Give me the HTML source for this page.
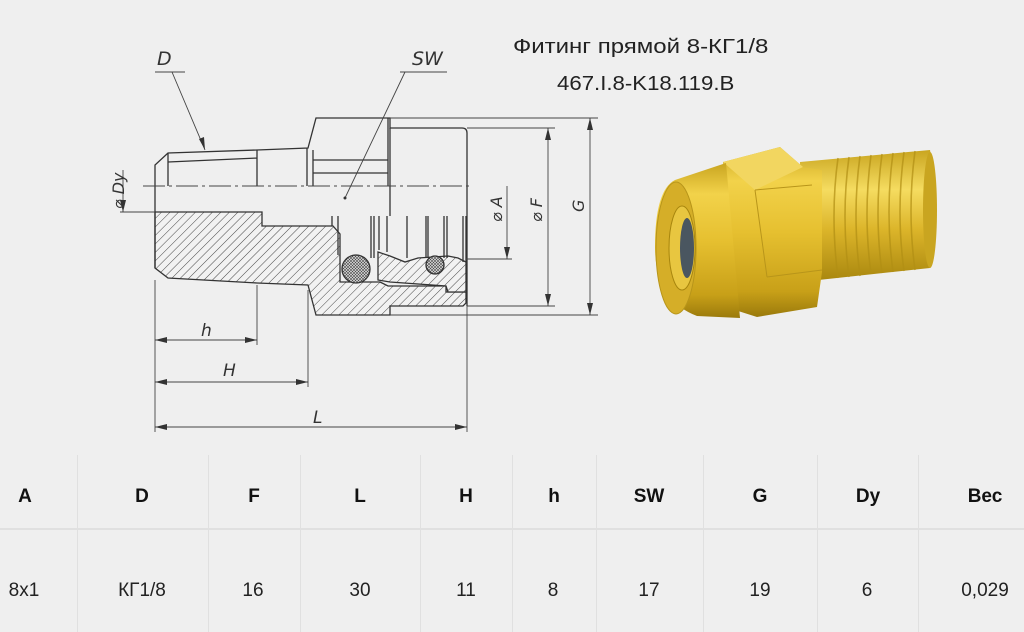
<!DOCTYPE html>
<html><head><meta charset="utf-8"><style>
html,body{margin:0;padding:0;background:#efefef;}
body{width:1024px;height:632px;position:relative;overflow:hidden;font-family:"Liberation Sans","DejaVu Sans",sans-serif;}
.t{position:absolute;color:#222;transform-origin:0 0;white-space:nowrap;}
.h{position:absolute;top:486px;font-size:19px;font-weight:bold;color:#111;transform:translateX(-50%);}
.d{position:absolute;top:580px;font-size:19px;color:#222;transform:translateX(-50%);}
.v{position:absolute;top:455px;height:177px;width:1px;background:#e0e0e0;}
</style></head><body>
<svg width="1024" height="632" style="position:absolute;left:0;top:0">
<defs>
<pattern id="hat" width="6" height="6" patternUnits="userSpaceOnUse" patternTransform="rotate(45)">
<rect width="6" height="6" fill="#f2f2f2"/><line x1="0" y1="0" x2="0" y2="6" stroke="#333" stroke-width="0.9"/></pattern>
<pattern id="cross" width="3" height="3" patternUnits="userSpaceOnUse">
<rect width="3" height="3" fill="#ddd"/><path d="M0 0L3 3M3 0L0 3" stroke="#444" stroke-width="0.6"/></pattern>
<linearGradient id="br" x1="0" y1="0" x2="0" y2="1">
<stop offset="0" stop-color="#c9a520"/><stop offset="0.2" stop-color="#f2d24a"/><stop offset="0.5" stop-color="#e6c030"/><stop offset="0.85" stop-color="#c8a018"/><stop offset="1" stop-color="#9a7a0c"/></linearGradient>
<linearGradient id="br2" x1="0" y1="0" x2="0" y2="1">
<stop offset="0" stop-color="#c9a520"/><stop offset="0.3" stop-color="#f5dc60"/><stop offset="0.6" stop-color="#dcb52a"/><stop offset="1" stop-color="#a8860e"/></linearGradient>
</defs>
<g stroke="#333" stroke-width="1.3" fill="none">
<path d="M155,212 L262,212 L262,226 L333,226 L340,234 L340,282 L380,282 L388,286 L446,286 L446,292 L466,292 L466,303 L463,306 L390,306 L390,315 L316,315 L308,285 L257,283 L168,278 L155,268 Z" fill="url(#hat)"/>
<path d="M378,252 L390,256 L405,262 L418,258 L448,256 L458,258 L466,262 L466,292 L448,292 L446,286 L390,282 L378,280 Z" fill="url(#hat)"/>
<circle cx="356" cy="269" r="14" fill="url(#cross)"/>
<circle cx="435" cy="265" r="9" fill="url(#cross)"/>
<path d="M155,212 L155,165 L168,153 L257,150 L308,148 L316,118 L390,118 L390,128 L462,128 Q467,128 467,133 L467,306"/>
<path d="M168,153 L168,186 M168,162 L257,158 M257,150 L257,186 M307,148 L307,186 M313,150 L313,186 M388,118 L388,186 M313,160 L388,160 M313,173 L388,173 M390,128 L390,216 M155,212 L155,268"/>
<path d="M332,216 L332,226 M338,216 L338,255 M371,216 L371,258 M374,216 L374,258 M379,216 L379,250 M387,216 L387,252 M407,216 L407,258 M426,216 L426,258 M428,216 L428,258 M444,216 L444,258 M447,216 L447,258 M463,216 L463,262 M466,216 L466,262"/>
</g>
<g stroke="#444" stroke-width="0.9" fill="none">
<path d="M143,186 L472,186" stroke-dasharray="22,4,3,4"/>
<path d="M390,118 L598,118 M390,315 L598,315 M467,128 L555,128 M467,306 L555,306 M466,259 L512,259 M120,212 L155,212"/>
<path d="M155,280 L155,432 M257,285 L257,345 M308,290 L308,387 M467,306 L467,432"/>
<path d="M590,118 L590,315 M548,128 L548,306 M507,186 L507,259 M123,170 L123,212 M155,340 L257,340 M155,382 L308,382 M155,427 L467,427"/>
<path d="M155,72 L185,72 L172,72 L205,150 M400,72 L447,72 M405,72 L345,198"/>
</g>
<g fill="#333">
<path d="M590,118 l-3,12 l6,0z M590,315 l-3,-12 l6,0z M548,128 l-3,12 l6,0z M548,306 l-3,-12 l6,0z M507,259 l-3,-12 l6,0z M123,212 l-3,-12 l6,0z"/>
<path d="M155,340 l12,-3 l0,6z M257,340 l-12,-3 l0,6z M155,382 l12,-3 l0,6z M308,382 l-12,-3 l0,6z M155,427 l12,-3 l0,6z M467,427 l-12,-3 l0,6z"/>
<path d="M205,150 l-6,-11 l5,-2z"/>
<circle cx="345" cy="198" r="1.5"/>
</g>
<g font-family="'DejaVu Sans','Liberation Sans',sans-serif" font-style="italic" fill="#333" font-size="19">
<text x="157" y="65">D</text>
<text x="412" y="65">SW</text>
<text x="201" y="336" font-size="17">h</text>
<text x="223" y="376" font-size="17">H</text>
<text x="313" y="423" font-size="17">L</text>
<text transform="translate(124,209) rotate(-90)" font-size="16">⌀ Dy</text>
<text transform="translate(502,222) rotate(-90)" font-size="16">⌀ A</text>
<text transform="translate(542,222) rotate(-90)" font-size="16">⌀ F</text>
<text transform="translate(584,212) rotate(-90)" font-size="16">G</text>
</g>
<g>
<path d="M800,162 L930,150 Q942,210 930,268 L800,282 Z" fill="url(#br2)"/>
<g stroke="#b08e14" stroke-width="1.6" opacity="0.7" fill="none">
<path d="M838,158 Q830,215 838,278 M849,157 Q841,215 849,277 M860,156 Q852,214 860,276 M871,155 Q863,214 871,274 M882,154 Q874,213 882,273 M893,153 Q885,212 893,272 M904,152 Q896,212 904,271 M915,151 Q907,211 915,270"/>
</g>
<ellipse cx="930" cy="210" rx="7" ry="58" fill="#c9a520"/>
<path d="M723,162 L780,147 L803,167 L822,170 L822,272 L817,307 L757,317 L735,310 Z" fill="url(#br)"/>
<path d="M723,162 L780,147 L803,167 L755,190 Z" fill="#f2d660"/>
<path d="M755,190 L812,185 M767,277 L822,270 M755,190 L767,277" stroke="#b8951a" stroke-width="1" fill="none"/>
<path d="M675,180 L726,163 L740,318 L697,316 Q655,300 655,247 Q655,190 675,180 Z" fill="url(#br)"/>
<ellipse cx="676" cy="248" rx="20" ry="66" fill="#d5ae28" stroke="#b8951a"/>
<ellipse cx="682" cy="248" rx="13" ry="42" fill="#e8c640" stroke="#a8860e"/>
<ellipse cx="687" cy="248" rx="7" ry="30" fill="#4a5660"/>
</g>
</svg>
<div class="t" style="left:513px;top:36px;font-size:20px;transform:scaleX(1.2);">Фитинг прямой 8-КГ1/8</div>
<div class="t" style="left:557px;top:73px;font-size:20px;transform:scaleX(1.11);">467.I.8-K18.119.B</div>
<div style="position:absolute;left:0;top:528px;width:1024px;height:2px;background:#e0e0e0"></div>
<div class="v" style="left:77px"></div><div class="v" style="left:208px"></div><div class="v" style="left:300px"></div><div class="v" style="left:420px"></div><div class="v" style="left:512px"></div><div class="v" style="left:596px"></div><div class="v" style="left:703px"></div><div class="v" style="left:817px"></div><div class="v" style="left:918px"></div>
<div class="h" style="left:25px">A</div><div class="h" style="left:142px">D</div><div class="h" style="left:254px">F</div><div class="h" style="left:360px">L</div><div class="h" style="left:466px">H</div><div class="h" style="left:554px">h</div><div class="h" style="left:649px">SW</div><div class="h" style="left:760px">G</div><div class="h" style="left:868px">Dy</div><div class="h" style="left:985px">Вес</div>
<div class="d" style="left:24px">8x1</div><div class="d" style="left:142px">КГ1/8</div><div class="d" style="left:253px">16</div><div class="d" style="left:360px">30</div><div class="d" style="left:466px">11</div><div class="d" style="left:553px">8</div><div class="d" style="left:649px">17</div><div class="d" style="left:760px">19</div><div class="d" style="left:867px">6</div><div class="d" style="left:985px">0,029</div>
</body></html>
